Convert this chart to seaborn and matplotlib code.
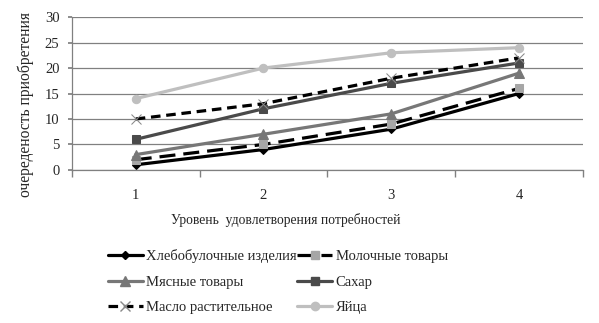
import matplotlib
matplotlib.use("Agg")
import matplotlib.pyplot as plt
import seaborn as sns
import pandas as pd
from matplotlib.lines import Line2D

levels = [1, 2, 3, 4]
series_names = ["Хлебобулочные изделия", "Молочные товары", "Мясные товары",
                "Сахар", "Масло растительное", "Яйца"]
bread = [1, 4, 8, 15]
dairy = [2, 5, 9, 16]
meat = [3, 7, 11, 19]
sugar = [6, 12, 17, 21]
oil = [10, 13, 18, 22]
eggs = [14, 20, 23, 24]
values = [bread, dairy, meat, sugar, oil, eggs]

sns.set_theme(style="white")
plt.rcParams['font.family'] = ['Liberation Serif', 'DejaVu Serif']

styles = [
    dict(color="#000000", ls="-", marker="D", mfc="#000000", mec="#000000", ms=4),
    dict(color="#000000", ls=(0, (5, 2.5)), marker="s", mfc="#a6a6a6", mec="#a6a6a6", ms=6),
    dict(color="#777777", ls="-", marker="^", mfc="#777777", mec="#777777", ms=7),
    dict(color="#4a4a4a", ls="-", marker="s", mfc="#4a4a4a", mec="#4a4a4a", ms=6),
    dict(color="#000000", ls=(0, (3, 1.8)), marker="x", mfc="#888888", mec="#888888", ms=7),
    dict(color="#bfbfbf", ls="-", marker="o", mfc="#bfbfbf", mec="#bfbfbf", ms=6),
]

fig = plt.figure(figsize=(5.99, 3.23), dpi=100)
ax = fig.add_axes([0.120, 0.474, 0.853, 0.473])

handles = []
for name, vals, st in zip(series_names, values, styles):
    df = pd.DataFrame({"x": levels, "y": vals})
    sns.lineplot(data=df, x="x", y="y", ax=ax, color=st["color"], linestyle=st["ls"],
                 linewidth=2.3, marker=st["marker"], markersize=st["ms"],
                 markerfacecolor=st["mfc"], markeredgecolor=st["mec"], legend=False)
    handles.append(Line2D([], [], color=st["color"], linestyle=st["ls"], linewidth=2.3,
                          marker=st["marker"], markersize=st["ms"],
                          markerfacecolor=st["mfc"], markeredgecolor=st["mec"]))

ax.set_xlim(0.5, 4.5)
ax.set_ylim(0, 30)
ax.set_yticks(range(0, 31, 5))
ax.set_xticks(levels)
ax.set_xticks([0.5, 1.5, 2.5, 3.5, 4.5], minor=True)
ax.tick_params(axis="x", which="major", length=0, pad=14, labelsize=10.5)
ax.tick_params(axis="x", which="minor", length=5, color="#808080", direction="out", bottom=True)
ax.tick_params(axis="y", length=3, color="#808080", direction="out", left=True, labelsize=10.5, pad=6)
ax.grid(axis="y", color="#808080", linewidth=0.9)
ax.set_axisbelow(True)
for s in ["top", "right"]:
    ax.spines[s].set_visible(False)
for s in ["left", "bottom"]:
    ax.spines[s].set_color("#808080")
    ax.spines[s].set_linewidth(0.9)
ax.set_xlabel("Уровень  удовлетворения потребностей", fontsize=9.8, labelpad=9)
ax.xaxis.set_label_coords(0.419, -0.28)
ax.set_ylabel("очереденость приобретения", fontsize=11.2, labelpad=4)
ax.yaxis.set_label_coords(-0.074, 0.425)

# legend laid out row-wise as in the reference
order = [0, 2, 4, 1, 3, 5]
fig.legend([handles[i] for i in order], [series_names[i] for i in order],
           loc="upper left", bbox_to_anchor=(0.180, 0.229),
           ncol=2, frameon=False, fontsize=10.5, handlelength=2.4, handletextpad=0.25,
           columnspacing=0.0, labelspacing=0.85, borderaxespad=0, borderpad=0)

fig.savefig("out.png", dpi=100)
